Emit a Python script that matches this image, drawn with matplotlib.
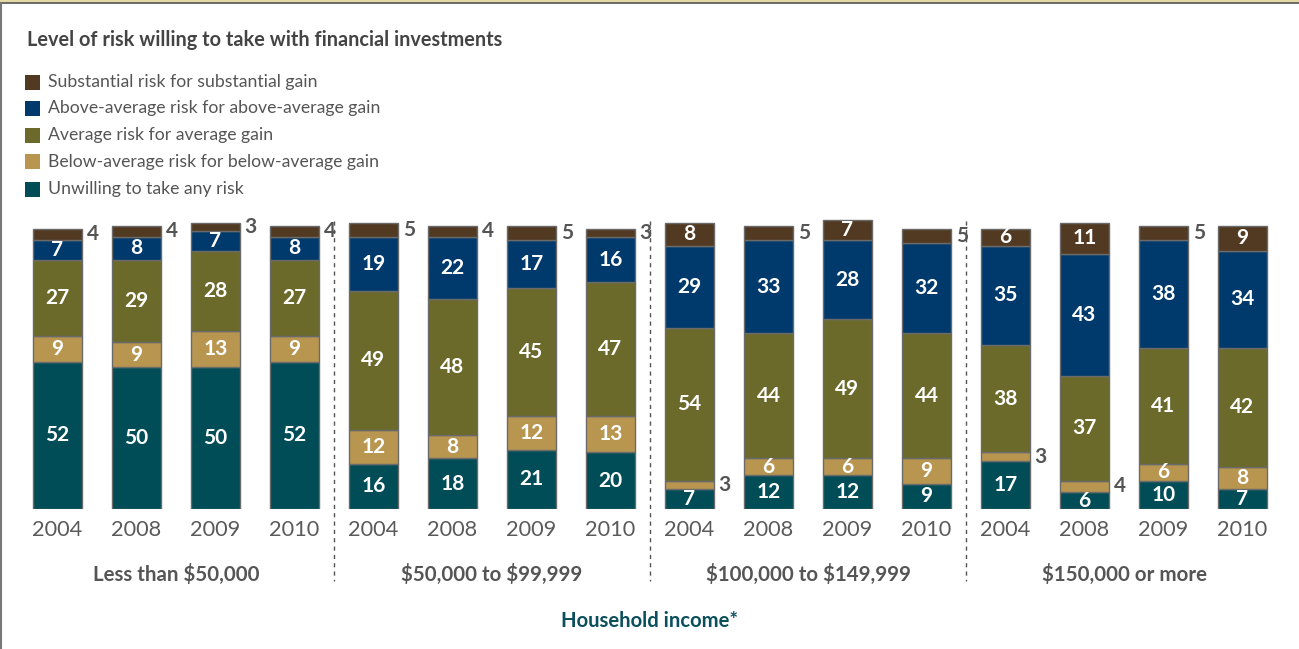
import matplotlib
matplotlib.use("Agg")
import matplotlib.pyplot as plt
from matplotlib.patches import Rectangle
from matplotlib.lines import Line2D
import numpy as np

plt.rcParams['font.family'] = ['Lato', 'DejaVu Sans']
plt.rcParams['text.usetex'] = False

years = ["2004", "2008", "2009", "2010"]
groups = ["Less than \\$50,000", "\\$50,000 to \\$99,999", "\\$100,000 to \\$149,999", "\\$150,000 or more"]
series_names = ["Unwilling to take any risk",
                "Below-average risk for below-average gain",
                "Average risk for average gain",
                "Above-average risk for above-average gain",
                "Substantial risk for substantial gain"]
colors = ["#004d57", "#b8964f", "#6b6a2a", "#003a6c", "#523a22"]

unwilling   = [52, 50, 50, 52, 16, 18, 21, 20, 7, 12, 12, 9, 17, 6, 10, 7]
below_avg   = [9, 9, 13, 9, 12, 8, 12, 13, 3, 6, 6, 9, 3, 4, 6, 8]
average     = [27, 29, 28, 27, 49, 48, 45, 47, 54, 44, 49, 44, 38, 37, 41, 42]
above_avg   = [7, 8, 7, 8, 19, 22, 17, 16, 29, 33, 28, 32, 35, 43, 38, 34]
substantial = [4, 4, 3, 4, 5, 4, 5, 3, 8, 5, 7, 5, 6, 11, 5, 9]

series = [unwilling, below_avg, average, above_avg, substantial]

W, H = 1299, 649
fig = plt.figure(figsize=(W/100, H/100), dpi=100)

def fx(px): return px / W
def fy(py): return 1 - py / H

# frame lines
fig.patches.append(Rectangle((0, fy(2.5)), 1, 2.5/H, transform=fig.transFigure,
                             facecolor="#e6d9a8", edgecolor="none"))
fig.lines.append(Line2D([0, 1], [fy(3), fy(3)], transform=fig.transFigure, color="#555555", lw=1.2))
fig.lines.append(Line2D([fx(1), fx(1)], [0, fy(3)], transform=fig.transFigure, color="#777777", lw=1.5))

# title
fig.text(fx(27), fy(40), "Level of risk willing to take with financial investments",
         fontsize=14.3, fontweight="bold", color="#444444", va="center", ha="left")

# legend (top-down order)
leg_rows = [82, 108.5, 135, 162, 189]
for i, (name, col) in enumerate(zip(series_names[::-1], colors[::-1])):
    y = leg_rows[i]
    fig.patches.append(Rectangle((fx(25), fy(y + 7.5)), 15/W, 15/H, transform=fig.transFigure,
                                 facecolor=col, edgecolor="none"))
    fig.text(fx(48), fy(y), name, fontsize=12.7, color="#555555", va="center", ha="left")

# axes
scale = 2.833
y0 = 509
ax_h = 110 * scale
ax = fig.add_axes([fx(18), fy(y0), 1264 / W, ax_h / H])
ax.set_xlim(-0.5, 15.5)
ax.set_ylim(0, 110)
ax.axis("off")

x = np.arange(16)
bw = 0.62
bottom = np.zeros(16)
for si, (vals, col) in enumerate(zip(series, colors)):
    vals = np.array(vals)
    ax.bar(x, vals, bw, bottom=bottom, color=col, edgecolor="#6a6a6a", linewidth=1.0, zorder=2)
    for xi, v, b in zip(x, vals, bottom):
        cy = b + v / 2
        if v >= 6:
            ax.text(xi, cy, str(v), ha="center", va="center", color="white",
                    fontsize=15, fontweight="bold", zorder=3)
        else:
            ax.text(xi + bw / 2 + 0.06, cy, str(v), ha="left", va="center", color="#555555",
                    fontsize=15, fontweight="bold", zorder=3)
    bottom += vals

# year labels
for xi in x:
    ax.text(xi, -7.4, years[xi % 4], ha="center", va="center", fontsize=15.7,
            color="#5a5a5a", clip_on=False)

# group labels
for g, name in enumerate(groups):
    ax.text(g * 4 + 1.5, -23.0, name, ha="center", va="center", fontsize=14.8,
            fontweight="bold", color="#555555", clip_on=False)

# dividers
for g in range(1, 4):
    xd = g * 4 - 0.5
    ax.plot([xd, xd], [101.5, -25.5], color="#555555", lw=1.0, ls=(0, (3, 3)),
            clip_on=False, zorder=1)

ax.text(7.5, -39.6, "Household income*", ha="center", va="center", fontsize=14.6,
        fontweight="bold", color="#0b4f5c", clip_on=False)

fig.savefig("out.png", dpi=100)
